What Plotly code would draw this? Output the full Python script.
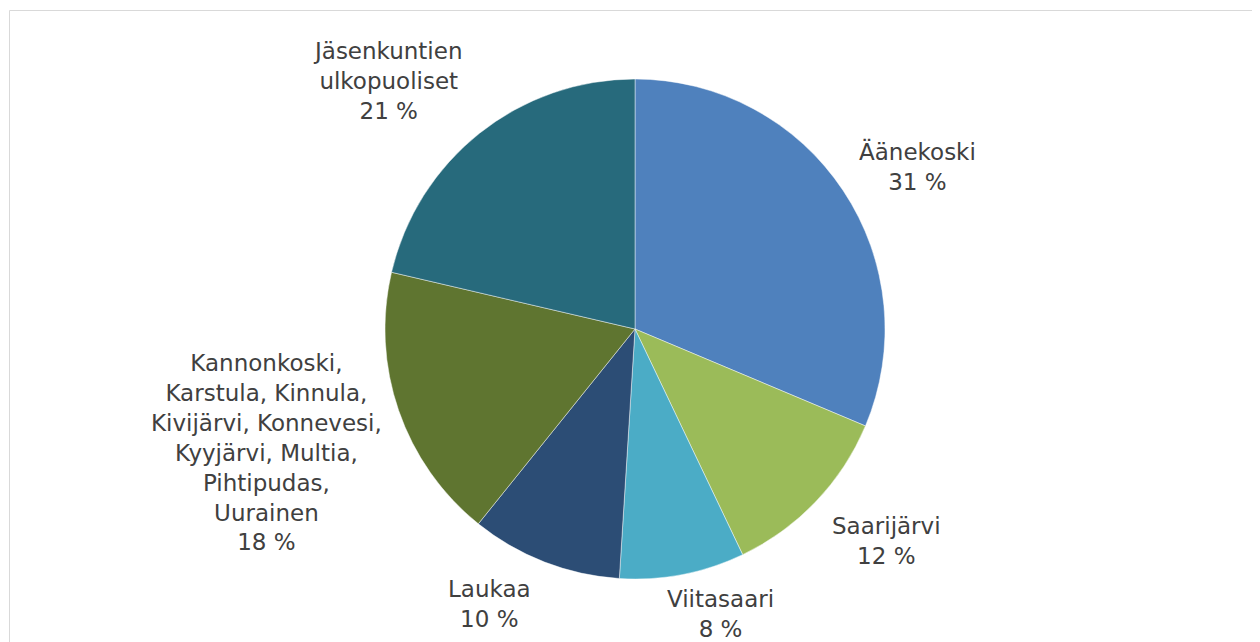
import math
import plotly.graph_objects as go

# ---- data ----
labels = ["Äänekoski", "Saarijärvi", "Viitasaari", "Laukaa",
          "Kannonkoski,<br>Karstula, Kinnula,<br>Kivijärvi, Konnevesi,<br>Kyyjärvi, Multia,<br>Pihtipudas,<br>Uurainen",
          "Jäsenkuntien<br>ulkopuoliset"]
values = [31.4, 11.6, 8.1, 9.8, 17.9, 21.4]
colors = ["#4F81BD", "#9BBB59", "#4BACC6", "#2C4D75", "#5F7530", "#276A7C"]

# ---- layout geometry (pixels within the figure; page adds an 8px body margin) ----
W, H = 1260, 642
CX, CY, R = 627, 321, 250
LABEL_R = 312
# per-label nudges (px, right / up)
shifts = [(23, -10), (26, 3), (26, 21), (-33, 16), (-74, -22), (-53, 4)]

fig = go.Figure(go.Pie(
    labels=labels, values=values, sort=False, direction="clockwise", rotation=0,
    marker=dict(colors=colors, line=dict(color="rgba(255,255,255,0.45)", width=1)),
    textinfo="none", hoverinfo="label+percent", showlegend=False,
    domain=dict(x=[(CX - R) / W, (CX + R) / W], y=[1 - (CY + R) / H, 1 - (CY - R) / H]),
))

total = sum(values)
cum = 0.0
annotations = []
for lab, v, (sx, sy) in zip(labels, values, shifts):
    mid = (cum + v / 2) / total * 2 * math.pi
    cum += v
    px = CX + LABEL_R * math.sin(mid)
    py = CY - LABEL_R * math.cos(mid)
    pct = round(v / total * 100)
    annotations.append(dict(
        x=px / W, y=1 - py / H, xref="paper", yref="paper",
        text=f"{lab}<br>{pct} %", showarrow=False,
        xanchor="center", yanchor="middle", align="center",
        xshift=sx, yshift=sy,
        font=dict(family="DejaVu Sans, sans-serif", size=23, color="#404040"),
    ))

fig.update_layout(
    width=W, height=H, margin=dict(l=0, r=0, t=0, b=0),
    paper_bgcolor="white", plot_bgcolor="white",
    annotations=annotations,
    shapes=[dict(type="rect", xref="paper", yref="paper",
                 x0=1.5 / W, x1=1.02, y0=-0.02, y1=1 - 2.5 / H,
                 line=dict(color="#D9D9D9", width=1), fillcolor="rgba(0,0,0,0)", layer="below")],
)

fig.write_html("out.html")
